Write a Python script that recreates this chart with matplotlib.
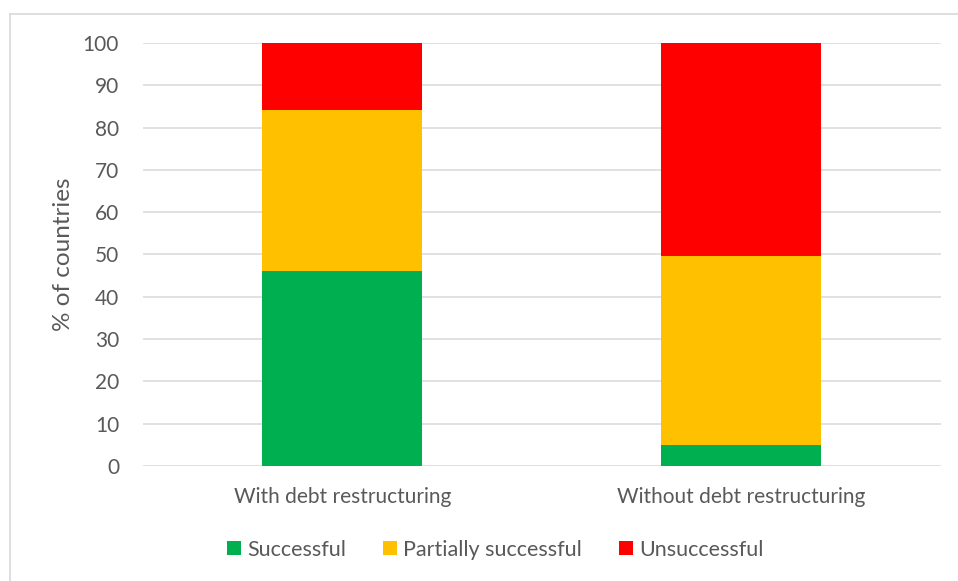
import numpy as np
import matplotlib.pyplot as plt
from matplotlib.lines import Line2D

plt.rcParams["font.family"] = ["Lato", "DejaVu Sans"]

# data
categories = ["With debt restructuring", "Without debt restructuring"]
successful = [46.2, 5.0]
partial = [37.9, 44.6]
unsuccessful = [15.9, 50.4]
series_names = ["Successful", "Partially successful", "Unsuccessful"]

colors = ["#00B050", "#FFC000", "#FF0000"]
txt = "#595959"

fig = plt.figure(figsize=(9.58, 5.81), dpi=100)
ax = fig.add_axes([0.149, 0.198, 0.833, 0.728])

x = np.arange(len(categories))
w = 0.4
bottom = np.zeros(len(categories))
for vals, col, name in zip([successful, partial, unsuccessful], colors, series_names):
    ax.bar(x, vals, width=w, bottom=bottom, color=col, label=name, zorder=3)
    bottom += np.array(vals)

ax.set_xlim(-0.5, 1.5)
ax.set_ylim(0, 100)
ax.set_yticks(np.arange(0, 101, 10))
ax.set_xticks(x)
ax.set_xticklabels(categories)
ax.grid(axis="y", color="#d9d9d9", linewidth=1.1, zorder=0)
for s in ax.spines.values():
    s.set_visible(False)
ax.tick_params(length=0, labelsize=15, colors=txt)
ax.tick_params(axis="y", pad=17)
ax.tick_params(axis="x", pad=15)
ax.set_ylabel("% of countries", fontsize=17.5, color=txt, labelpad=6)

leg = fig.legend(loc="center", bbox_to_anchor=(0.517, 0.054), ncol=3, frameon=False,
                 fontsize=15.5, handlelength=0.65, handleheight=0.65, handletextpad=0.3,
                 columnspacing=1.7, labelcolor=txt)

# chart area border (only top and left visible)
fig.add_artist(Line2D([0.0105, 0.0105], [0, 1 - 13.5 / 581], transform=fig.transFigure,
                      color="#d9d9d9", linewidth=1.2))
fig.add_artist(Line2D([0.0105, 1.0], [1 - 13.5 / 581, 1 - 13.5 / 581], transform=fig.transFigure,
                      color="#d9d9d9", linewidth=1.2))

fig.savefig("out.png", dpi=100)
